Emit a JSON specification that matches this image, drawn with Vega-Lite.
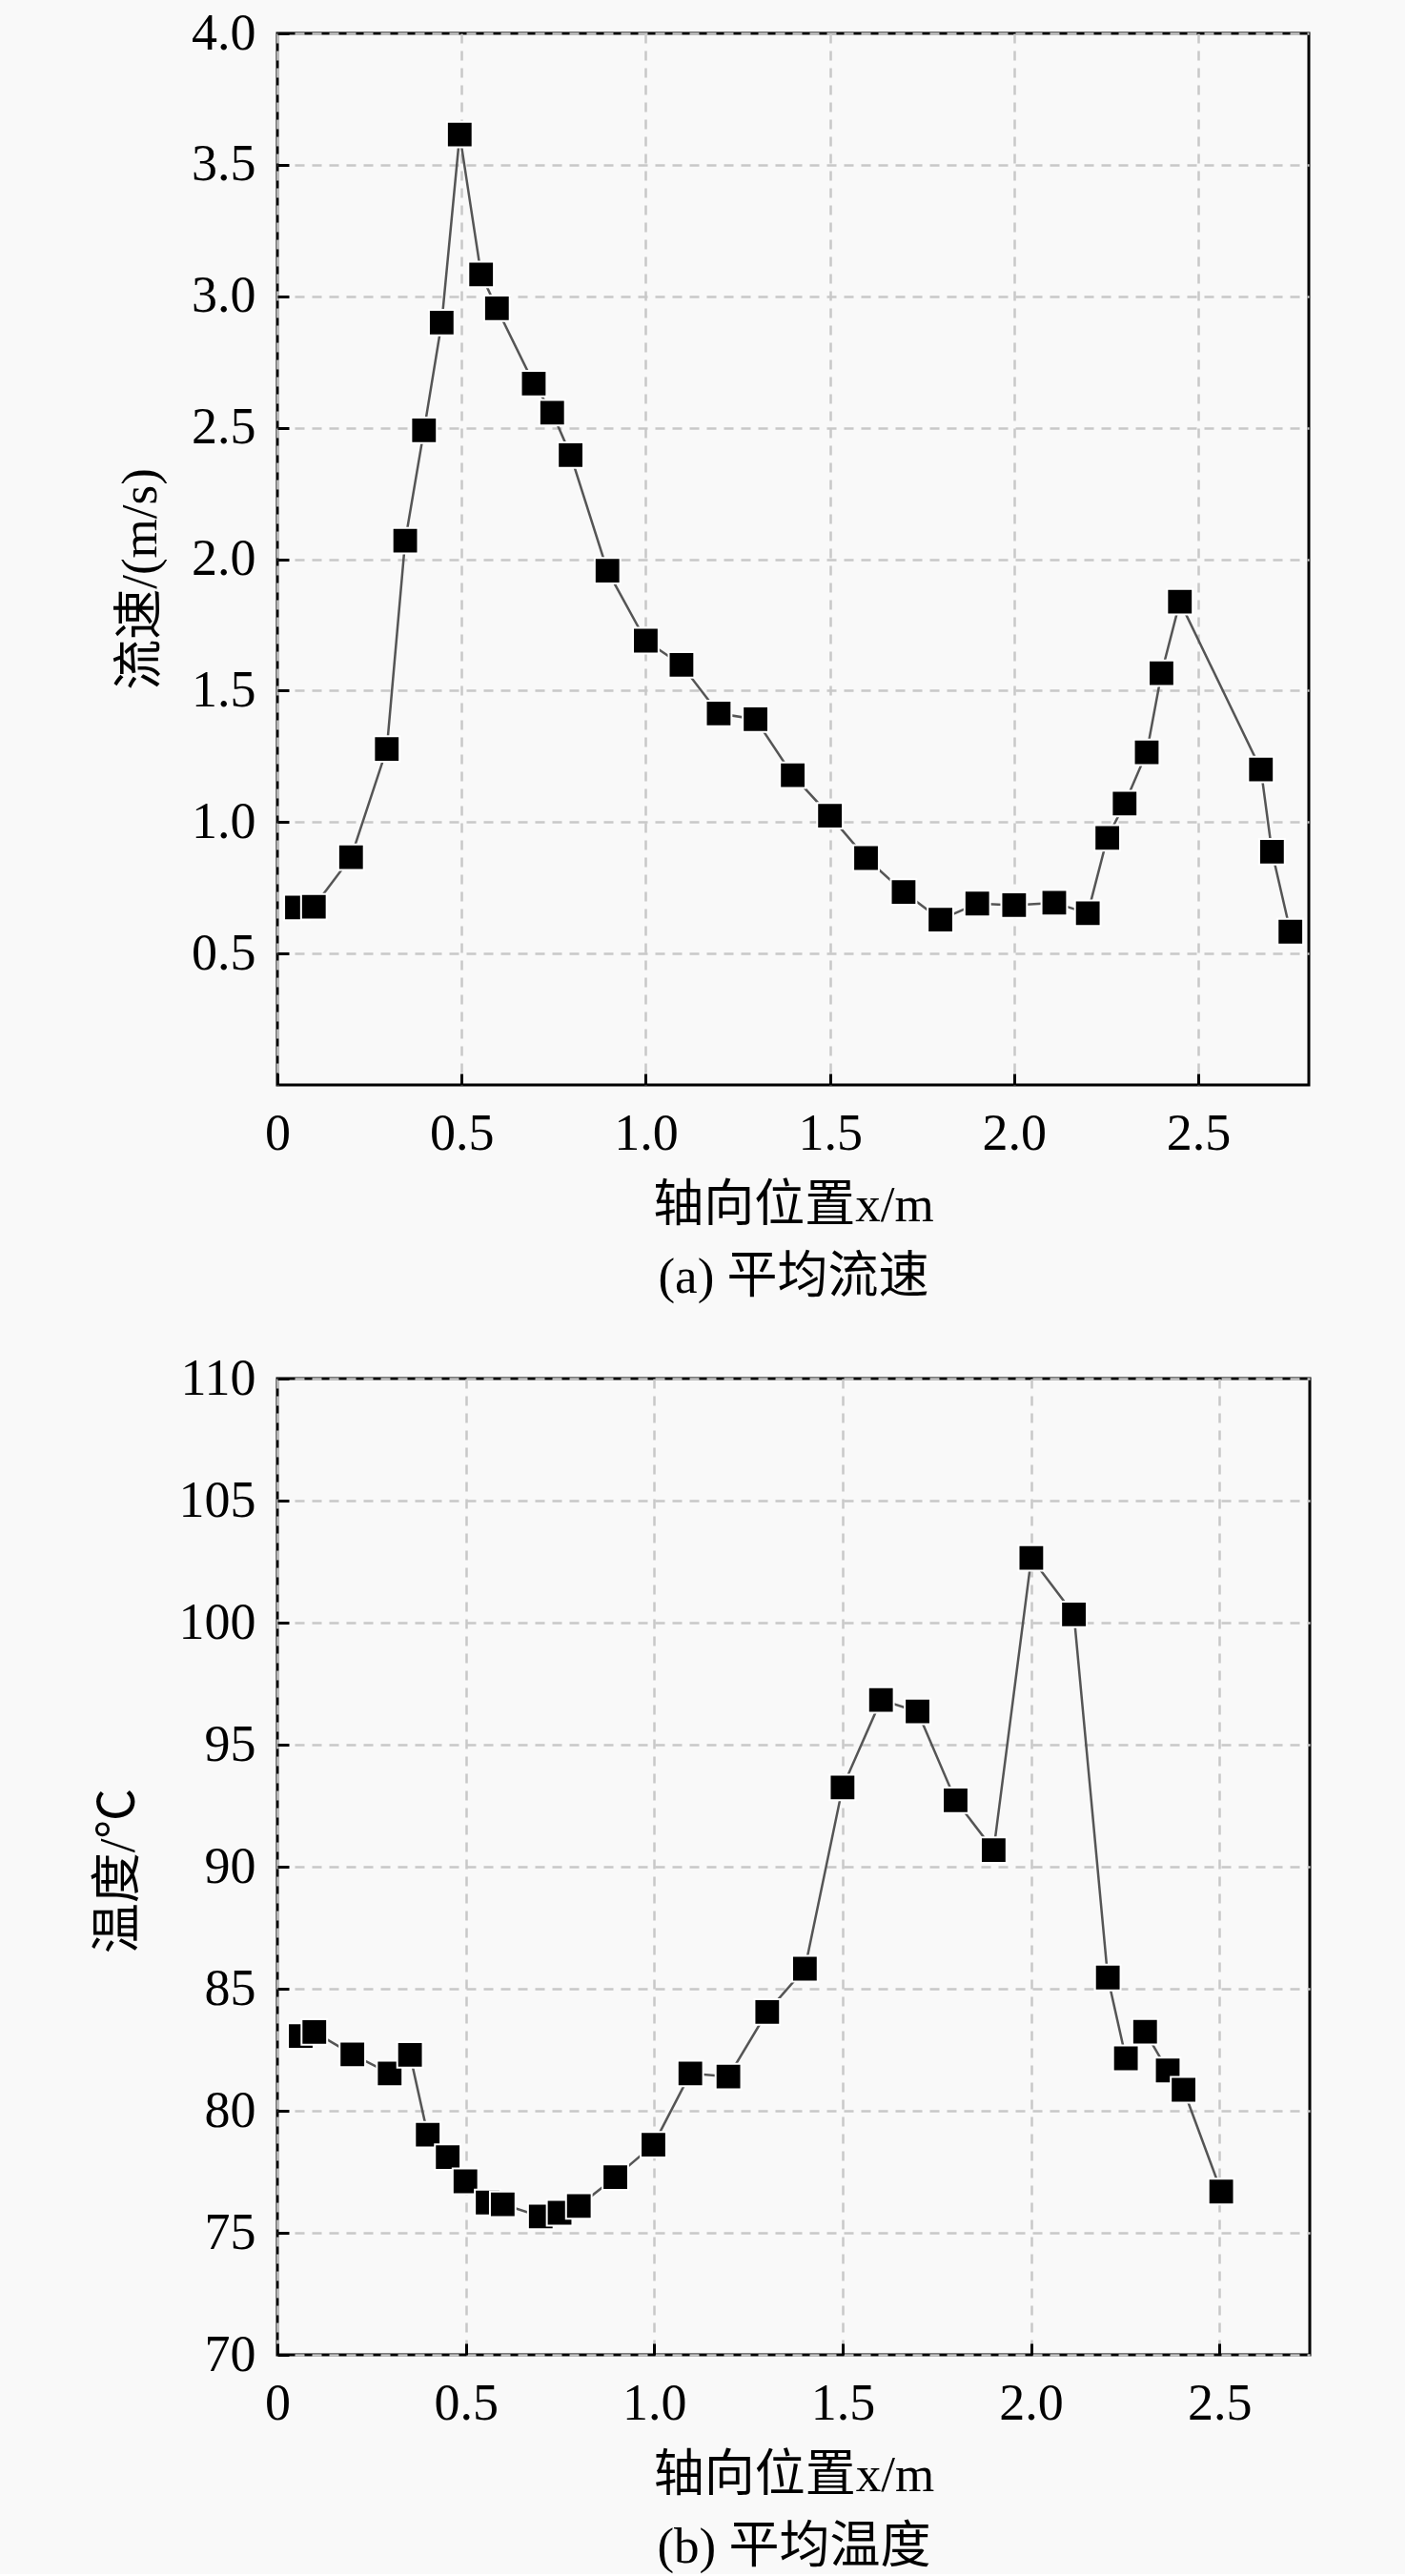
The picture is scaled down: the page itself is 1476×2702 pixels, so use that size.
{
  "$schema": "https://vega.github.io/schema/vega-lite/v6.json",
  "background": "#f9f9f9",
  "padding": {"left": 96, "top": 6, "right": 98, "bottom": 0},
  "bounds": "flush",
  "spacing": 308,
  "datasets": {
    "v": [
      {"x": 0.053, "y": 0.675}, {"x": 0.099, "y": 0.678}, {"x": 0.200, "y": 0.866}, {"x": 0.297, "y": 1.278},
      {"x": 0.347, "y": 2.07}, {"x": 0.398, "y": 2.49}, {"x": 0.446, "y": 2.90}, {"x": 0.495, "y": 3.615},
      {"x": 0.553, "y": 3.083}, {"x": 0.596, "y": 2.954}, {"x": 0.696, "y": 2.668}, {"x": 0.746, "y": 2.557},
      {"x": 0.796, "y": 2.396}, {"x": 0.896, "y": 1.956}, {"x": 1.0, "y": 1.69}, {"x": 1.097, "y": 1.598},
      {"x": 1.198, "y": 1.413}, {"x": 1.298, "y": 1.391}, {"x": 1.399, "y": 1.178}, {"x": 1.50, "y": 1.024},
      {"x": 1.598, "y": 0.863}, {"x": 1.70, "y": 0.734}, {"x": 1.80, "y": 0.629}, {"x": 1.90, "y": 0.690},
      {"x": 2.00, "y": 0.684}, {"x": 2.109, "y": 0.693}, {"x": 2.20, "y": 0.653}, {"x": 2.253, "y": 0.94},
      {"x": 2.30, "y": 1.07}, {"x": 2.36, "y": 1.265}, {"x": 2.40, "y": 1.566}, {"x": 2.45, "y": 1.838},
      {"x": 2.67, "y": 1.20}, {"x": 2.70, "y": 0.887}, {"x": 2.75, "y": 0.583}
    ],
    "t": [
      {"x": 0.062, "y": 83.06}, {"x": 0.098, "y": 83.23}, {"x": 0.199, "y": 82.31}, {"x": 0.298, "y": 81.53},
      {"x": 0.352, "y": 82.29}, {"x": 0.399, "y": 79.02}, {"x": 0.452, "y": 78.10}, {"x": 0.499, "y": 77.11},
      {"x": 0.558, "y": 76.24}, {"x": 0.598, "y": 76.17}, {"x": 0.699, "y": 75.67}, {"x": 0.749, "y": 75.82},
      {"x": 0.80, "y": 76.10}, {"x": 0.897, "y": 77.28}, {"x": 0.998, "y": 78.61}, {"x": 1.096, "y": 81.53},
      {"x": 1.197, "y": 81.40}, {"x": 1.30, "y": 84.05}, {"x": 1.40, "y": 85.82}, {"x": 1.50, "y": 93.25},
      {"x": 1.602, "y": 96.83}, {"x": 1.699, "y": 96.36}, {"x": 1.80, "y": 92.72}, {"x": 1.901, "y": 90.68},
      {"x": 2.001, "y": 102.65}, {"x": 2.114, "y": 100.34}, {"x": 2.204, "y": 85.46}, {"x": 2.252, "y": 82.15},
      {"x": 2.303, "y": 83.24}, {"x": 2.363, "y": 81.65}, {"x": 2.405, "y": 80.86}, {"x": 2.505, "y": 76.69}
    ]
  },
  "config": {
    "font": "Liberation Serif, Noto Sans CJK SC",
    "view": {"stroke": "#000000", "strokeWidth": 3},
    "axis": {
      "domain": false,
      "labelFont": "Liberation Serif",
      "labelFontSize": 54,
      "labelColor": "#000000",
      "labelFlush": false,
      "labelOverlap": false,
      "titleFont": "Liberation Serif, Noto Sans CJK SC",
      "titleFontSize": 53,
      "titleFontWeight": "normal",
      "titleColor": "#000000",
      "tickColor": "#000000",
      "tickWidth": 3,
      "tickSize": -12,
      "gridColor": "#c8c8c8",
      "gridDash": [10, 8],
      "gridWidth": 2.5
    },
    "axisX": {"labelPadding": 36, "titlePadding": 22},
    "axisY": {"labelPadding": 35}
  },
  "vconcat": [
    {
      "width": 1082,
      "height": 1103,
      "data": {"name": "v"},
      "encoding": {
        "x": {
          "field": "x", "type": "quantitative",
          "scale": {"domain": [0, 2.8], "nice": false, "zero": false},
          "axis": {
            "values": [0, 0.5, 1, 1.5, 2, 2.5],
            "labelExpr": "datum.value == 0 ? '0' : format(datum.value, '.1f')",
            "title": ["轴向位置x/m", "(a) 平均流速"],
            "titleLineHeight": 75
          }
        },
        "y": {
          "field": "y", "type": "quantitative",
          "scale": {"domain": [0, 4], "nice": false},
          "axis": {
            "values": [0.5, 1, 1.5, 2, 2.5, 3, 3.5, 4],
            "format": ".1f",
            "title": "流速/(m/s)",
            "titleX": -117,
            "titleY": 572
          }
        }
      },
      "layer": [
        {"mark": {"type": "line", "color": "#555555", "strokeWidth": 2.5}},
        {"mark": {"type": "point", "shape": "square", "filled": true, "fill": "#000000", "stroke": "#ffffff", "strokeWidth": 2, "size": 720, "opacity": 1}}
      ]
    },
    {
      "width": 1083,
      "height": 1024,
      "data": {"name": "t"},
      "encoding": {
        "x": {
          "field": "x", "type": "quantitative",
          "scale": {"domain": [0, 2.74], "nice": false, "zero": false},
          "axis": {
            "values": [0, 0.5, 1, 1.5, 2, 2.5],
            "labelExpr": "datum.value == 0 ? '0' : format(datum.value, '.1f')",
            "title": ["轴向位置x/m", "(b) 平均温度"],
            "titleLineHeight": 75
          }
        },
        "y": {
          "field": "y", "type": "quantitative",
          "scale": {"domain": [70, 110], "nice": false, "zero": false},
          "axis": {
            "values": [70, 75, 80, 85, 90, 95, 100, 105, 110],
            "title": "温度/℃",
            "titleX": -140,
            "titleY": 516
          }
        }
      },
      "layer": [
        {"mark": {"type": "line", "color": "#555555", "strokeWidth": 2.5}},
        {"mark": {"type": "point", "shape": "square", "filled": true, "fill": "#000000", "stroke": "#ffffff", "strokeWidth": 2, "size": 720, "opacity": 1}}
      ]
    }
  ]
}
